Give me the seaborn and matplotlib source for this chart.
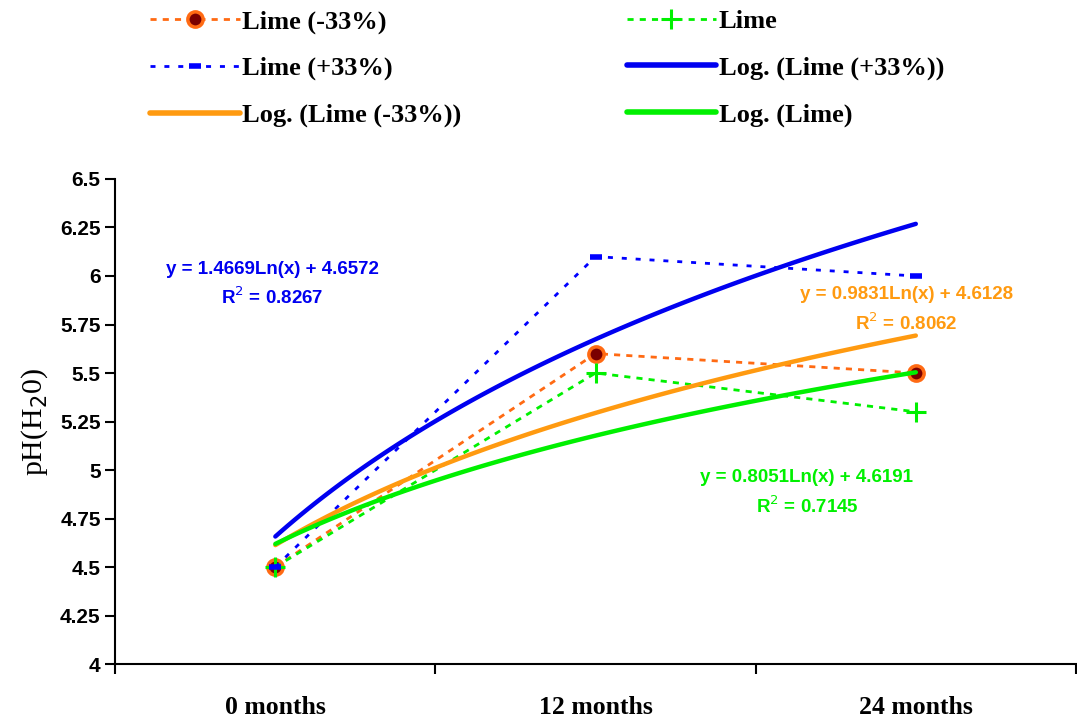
import numpy as np
import pandas as pd
import seaborn as sns
import matplotlib.pyplot as plt
from matplotlib.lines import Line2D
from matplotlib.ticker import FixedLocator

# datos
meses = ["0 months", "12 months", "24 months"]
x_pos = [1, 2, 3]
lime_menos = [4.5, 5.6, 5.5]
lime = [4.5, 5.5, 5.3]
lime_mas = [4.5, 6.1, 6.0]

ecuaciones = ["y = 1.4669Ln(x) + 4.6572\nR$^2$ = 0.8267",
              "y = 0.9831Ln(x) + 4.6128\nR$^2$ = 0.8062",
              "y = 0.8051Ln(x) + 4.6191\nR$^2$ = 0.7145"]

naranja_pt = "#FF6A13"
verde = "#00F000"
azul_pt = "#0000FF"
azul_log = "#0000F0"
naranja_log = "#FF9A10"

sns.set_style("white", {"text.color": "black", "axes.labelcolor": "black",
                        "xtick.color": "black", "ytick.color": "black"})
plt.rcParams['font.family'] = ['Liberation Sans', 'DejaVu Sans']

fig = plt.figure(figsize=(10.77, 7.18), dpi=100)
ax = fig.add_axes([0.107, 0.0752, 0.892, 0.6755])

df = pd.DataFrame({"x": x_pos, "menos": lime_menos, "lime": lime, "mas": lime_mas})

punteado = (0, (2.2, 2.2))
punteado_azul = (0, (1.8, 3.2))
sns.lineplot(data=df, x="x", y="menos", ax=ax, color=naranja_pt, lw=2, linestyle=punteado,
             marker="o", markersize=11, markerfacecolor="#7A0000", markeredgecolor=naranja_pt,
             markeredgewidth=2.5)
sns.lineplot(data=df, x="x", y="lime", ax=ax, color=verde, lw=2, linestyle=punteado,
             marker="+", markersize=14, markeredgewidth=2.2, markeredgecolor=verde)
sns.lineplot(data=df, x="x", y="mas", ax=ax, color=azul_pt, lw=2, linestyle=punteado_azul,
             marker="_", markersize=8, markeredgewidth=4, markeredgecolor=azul_pt)

# lineas de tendencia logaritmica
sns.regplot(data=df, x="x", y="mas", logx=True, ci=None, scatter=False, ax=ax,
            line_kws=dict(color=azul_log, lw=3.2))
sns.regplot(data=df, x="x", y="menos", logx=True, ci=None, scatter=False, ax=ax,
            line_kws=dict(color=naranja_log, lw=3.2))
sns.regplot(data=df, x="x", y="lime", logx=True, ci=None, scatter=False, ax=ax,
            line_kws=dict(color=verde, lw=3.2))

ax.set_xlim(0.5, 3.5)
ax.set_ylim(4, 6.5)
ax.set_yticks(np.arange(4, 6.51, 0.25))
ax.set_yticklabels(["4", "4.25", "4.5", "4.75", "5", "5.25", "5.5", "5.75", "6", "6.25", "6.5"],
                   fontsize=15, fontweight="bold")
ax.xaxis.set_major_locator(FixedLocator([0.5, 1.5, 2.5, 3.5]))
ax.set_xticklabels([])
ax.xaxis.set_minor_locator(FixedLocator(x_pos))
ax.set_xticklabels(meses, minor=True, fontsize=18.5, fontweight="bold",
                   family=["Liberation Serif"])
ax.tick_params(axis="x", which="minor", length=0, pad=23)
ax.tick_params(axis="both", which="major", direction="out", length=7, width=1.5, color="black",
               left=True, bottom=True)
ax.set_xlabel("")
ax.set_ylabel("pH(H$_2$0)", fontsize=21.5, family=["Liberation Serif"], labelpad=7)

sns.despine(ax=ax)
for s in ["left", "bottom"]:
    ax.spines[s].set_color("black")
    ax.spines[s].set_linewidth(1.5)

# ecuaciones
ax.text(0.99, 5.955, ecuaciones[0], color=azul_log, fontsize=13.5, fontweight="bold",
        ha="center", va="center", linespacing=1.5)
ax.text(2.97, 5.825, ecuaciones[1], color=naranja_log, fontsize=13.5, fontweight="bold",
        ha="center", va="center", linespacing=1.5)
ax.text(2.66, 4.882, ecuaciones[2], color=verde, fontsize=13.5, fontweight="bold",
        ha="center", va="center", linespacing=1.5)

# leyenda
h_menos = Line2D([], [], color=naranja_pt, lw=2, linestyle=punteado, marker="o", markersize=11,
                 markerfacecolor="#7A0000", markeredgecolor=naranja_pt, markeredgewidth=2.5)
h_lime = Line2D([], [], color=verde, lw=2, linestyle=punteado, marker="+", markersize=14,
                markeredgewidth=2.2)
h_mas = Line2D([], [], color=azul_pt, lw=2, linestyle=punteado_azul, marker="_", markersize=8,
               markeredgewidth=4)
h_log_mas = Line2D([], [], color=azul_log, lw=4)
h_log_menos = Line2D([], [], color=naranja_log, lw=4)
h_log_lime = Line2D([], [], color=verde, lw=4)

handles = [h_menos, h_mas, h_log_menos, h_lime, h_log_mas, h_log_lime]
labels = ["Lime (-33%)", "Lime (+33%)", "Log. (Lime (-33%))",
          "Lime", "Log. (Lime (+33%))", "Log. (Lime)"]
fig.legend(handles, labels, loc="upper left", bbox_to_anchor=(0.1295, 1.0012), ncol=2,
           frameon=False, borderaxespad=0, handlelength=3.4, handletextpad=0.1,
           labelspacing=0.87, columnspacing=6.25,
           prop=dict(family="Liberation Serif", weight="bold", size=19))

fig.savefig("out.png", dpi=100)
